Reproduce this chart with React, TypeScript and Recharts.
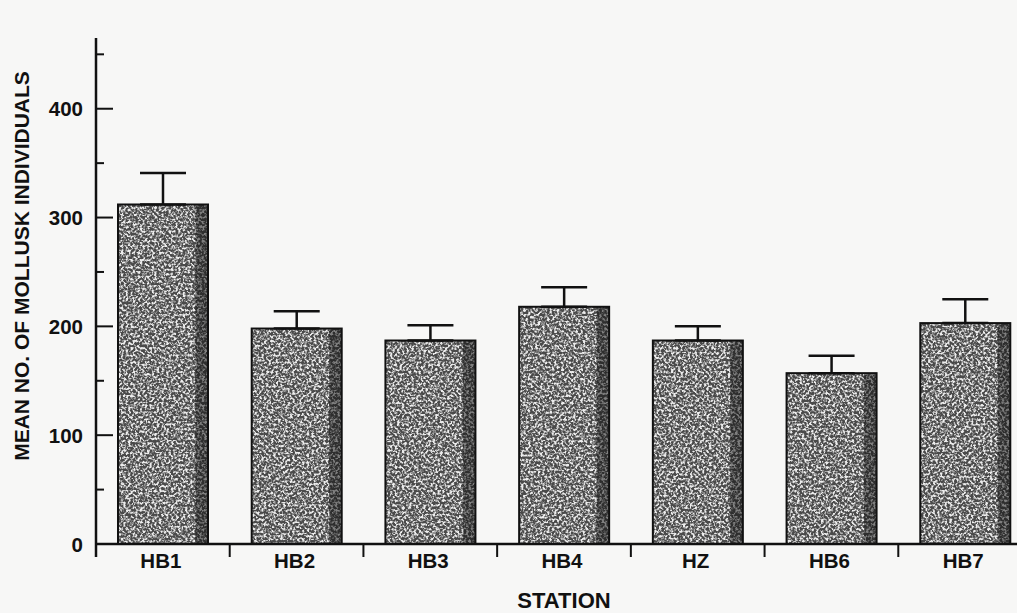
import React from 'react';
import { BarChart, Bar, XAxis, YAxis, ErrorBar, Label } from 'recharts';

const stations = ['HB1', 'HB2', 'HB3', 'HB4', 'HZ', 'HB6', 'HB7'];
const means = [312, 198, 187, 218, 187, 157, 203];
const errors = [29, 16, 14, 18, 13, 16, 22];
const yTicks = [0, 50, 100, 150, 200, 250, 300, 350, 400, 450];

const data = stations.map((station, i) => ({
  station,
  mean: means[i],
  err: [0, errors[i]],
}));

const FONT = '"Liberation Sans", Arial, Helvetica, sans-serif';
const CHART_W = 1040;
const CHART_H = 613;
const LEFT = 96;
const RIGHT_MARGIN = 8;
const BAND = (CHART_W - LEFT - RIGHT_MARGIN) / stations.length;

const YTick = (props: any) => {
  const { x, y, payload } = props;
  const major = payload.value % 100 === 0;
  return (
    <g>
      <line x1={x} x2={x + (major ? 17 : 8)} y1={y} y2={y} stroke="#111" strokeWidth={2} />
      {payload.value === 0 && <line x1={x} x2={x} y1={y} y2={y + 13} stroke="#111" strokeWidth={2.5} />}
      {major && (
        <text x={x - 13} y={y} dy={7.5} textAnchor="end" fontFamily={FONT} fontWeight="bold" fontSize={20.5} fill="#111">
          {payload.value}
        </text>
      )}
    </g>
  );
};

const XTick = (props: any) => {
  const { x, y, payload, index } = props;
  return (
    <g>
      {index < stations.length - 1 && (
        <line x1={x + BAND / 2} x2={x + BAND / 2} y1={y} y2={y + 13} stroke="#111" strokeWidth={2} />
      )}
      <text x={x - 2} y={y} dy={24} textAnchor="middle" fontFamily={FONT} fontWeight="bold" fontSize={20.5} fill="#111">
        {payload.value}
      </text>
    </g>
  );
};

const SpeckleBar = (props: any) => {
  const { x, y, width, height } = props;
  if (!height || height <= 0) return null;
  return (
    <g>
      <rect x={x} y={y} width={width} height={height} fill="#4a4a4a" />
      <rect x={x} y={y} width={width} height={height} fill="#fff" filter="url(#speckle)" />
      <rect x={x + width * 0.86} y={y} width={width * 0.14} height={height} fill="#111" opacity={0.5} />
      <rect x={x} y={y} width={width} height={height} fill="none" stroke="#111" strokeWidth={2} />
    </g>
  );
};

const YTitle = (props: any) => {
  const { viewBox } = props;
  const cx = viewBox.x + 21;
  const cy = viewBox.y + 228;
  return (
    <text
      x={cx}
      y={cy}
      transform={`rotate(-90 ${cx} ${cy})`}
      textAnchor="middle"
      dominantBaseline="central"
      fontFamily={FONT}
      fontWeight="bold"
      fontSize={21}
      fill="#111"
    >
      MEAN NO. OF MOLLUSK INDIVIDUALS
    </text>
  );
};

export default function App() {
  return (
    <div
      style={{
        position: 'fixed',
        left: 0,
        top: 0,
        width: 1017,
        height: 613,
        overflow: 'hidden',
        background: '#f7f7f6',
      }}
    >
      <BarChart
        width={CHART_W}
        height={CHART_H}
        data={data}
        margin={{ top: 38, right: RIGHT_MARGIN, left: 0, bottom: 0 }}
      >
        <defs>
          <filter id="speckle" x="0" y="0" width="100%" height="100%">
            <feTurbulence type="fractalNoise" baseFrequency="0.42" numOctaves="2" seed="7" result="n" />
            <feColorMatrix
              in="n"
              type="matrix"
              values="0 0 0 0 0.85  0 0 0 0 0.85  0 0 0 0 0.85  4 0 0 0 -1.7"
            />
          </filter>
        </defs>
        <XAxis
          dataKey="station"
          height={69}
          axisLine={{ stroke: '#111', strokeWidth: 2.5 }}
          tickLine={false}
          tickSize={0}
          tickMargin={0}
          tick={<XTick />}
          interval={0}
        >
          <Label
            value="STATION"
            position="insideBottom"
            offset={5}
            style={{ fontFamily: FONT, fontWeight: 'bold', fontSize: 22, fill: '#111' }}
          />
        </XAxis>
        <YAxis
          type="number"
          width={LEFT}
          domain={[0, 465]}
          ticks={yTicks}
          interval={0}
          axisLine={{ stroke: '#111', strokeWidth: 2.5 }}
          tickLine={false}
          tickSize={0}
          tickMargin={0}
          tick={<YTick />}
        >
          <Label content={<YTitle />} />
        </YAxis>
        <Bar dataKey="mean" barSize={90} shape={<SpeckleBar />} isAnimationActive={false}>
          <ErrorBar dataKey="err" direction="y" width={23} stroke="#111" strokeWidth={2.5} isAnimationActive={false} />
        </Bar>
      </BarChart>
    </div>
  );
}
